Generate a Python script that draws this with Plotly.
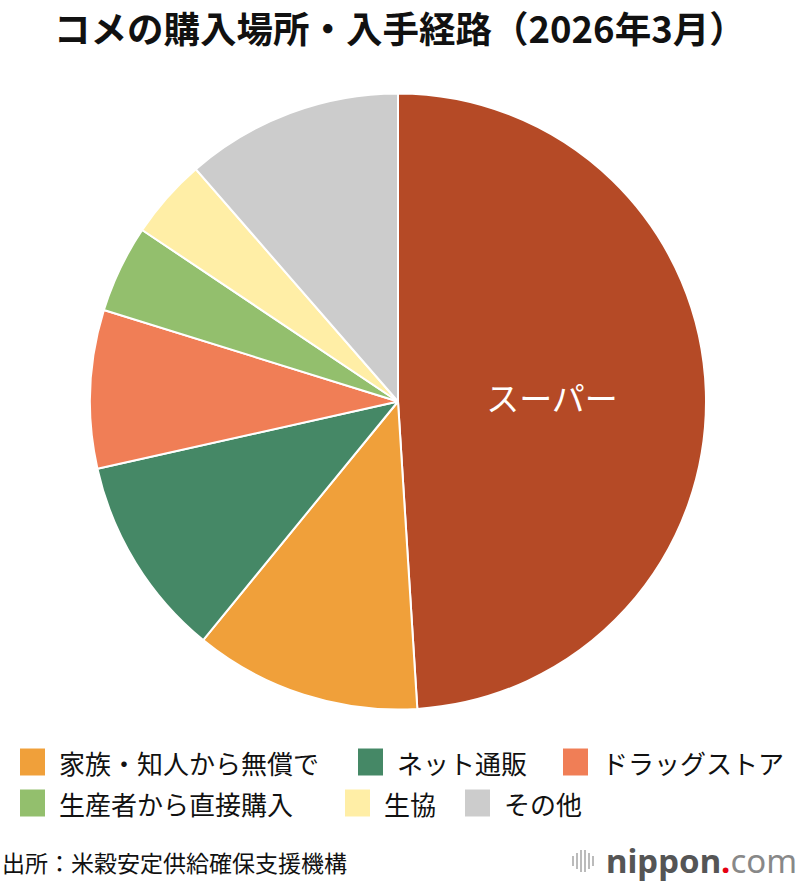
import plotly.graph_objects as go

categories = ["スーパー", "家族・知人から無償で", "ネット通販", "ドラッグストア",
              "生産者から直接購入", "生協", "その他"]
values = [49.0, 11.9, 10.6, 8.3, 4.6, 4.2, 11.4]
colors = ["#B54A26", "#F0A03A", "#458866", "#F07E56", "#93BF6D", "#FFEEA6", "#CCCCCC"]
shown_labels = ["スーパー"]

FONT = "Noto Sans CJK JP"
W, H = 800, 884

texts = [c if c in shown_labels else "" for c in categories]

fig = go.Figure()
fig.add_trace(go.Pie(
    labels=categories, values=values, sort=False, direction="clockwise", rotation=0,
    marker=dict(colors=colors, line=dict(color="white", width=2)),
    text=texts, textinfo="text", textposition="inside",
    insidetextorientation="horizontal",
    insidetextfont=dict(family=FONT, size=33, color="white"),
    hoverinfo="label+value",
    domain=dict(x=[(398 - 308) / W, (398 + 308) / W], y=[1 - 709.5 / H, 1 - 93.5 / H]),
    showlegend=False,
))

annotations = []
shapes = []

annotations.append(dict(text="<b>コメの購入場所・入手経路（2026年3月）</b>", x=0.5, y=1 - 27 / H,
                        xref="paper", yref="paper", showarrow=False,
                        font=dict(family=FONT, size=36.5, color="#111111"),
                        xanchor="center", yanchor="middle"))

# legend (manual)
legend_pos = [(20, 762), (358, 762), (563, 762), (20, 803), (345, 803), (465, 803)]
for (x0, yc), cat, col in zip(legend_pos, categories[1:], colors[1:]):
    shapes.append(dict(type="rect", xref="paper", yref="paper",
                       x0=x0 / W, x1=(x0 + 25) / W,
                       y0=1 - (yc + 13.5) / H, y1=1 - (yc - 13.5) / H,
                       fillcolor=col, line=dict(width=0)))
    annotations.append(dict(text=cat, x=(x0 + 37) / W, y=1 - yc / H,
                            xref="paper", yref="paper", showarrow=False,
                            font=dict(family=FONT, size=26, color="#111111"),
                            xanchor="left", yanchor="middle"))

annotations.append(dict(text="出所：米穀安定供給確保支援機構", x=0 / W, y=1 - 862 / H,
                        xref="paper", yref="paper", showarrow=False,
                        font=dict(family=FONT, size=23, color="#111111"),
                        xanchor="left", yanchor="middle"))

# nippon.com logo
bar_x = [573, 577, 581, 585, 589, 593]
bar_h = [10, 16, 22, 22, 16, 10]
for bx, bh in zip(bar_x, bar_h):
    shapes.append(dict(type="line", xref="paper", yref="paper",
                       x0=bx / W, x1=bx / W,
                       y0=1 - (861 + bh / 2) / H, y1=1 - (861 - bh / 2) / H,
                       line=dict(color="#BBBBBB", width=2)))
annotations.append(dict(
    text="<b><span style='color:#555555'>nippon</span><span style='color:#e60012'>.</span></b><span style='color:#888888'>com</span>",
    x=799 / W, y=1 - 860 / H, xref="paper", yref="paper", showarrow=False,
    font=dict(family="Noto Sans", size=33, color="#555555"),
    xanchor="right", yanchor="middle"))

fig.update_layout(
    width=W, height=H, margin=dict(l=0, r=0, t=0, b=0),
    paper_bgcolor="white", plot_bgcolor="white",
    annotations=annotations, shapes=shapes, showlegend=False,
)

fig.write_html("out.html", config={"displayModeBar": False},
               post_script="document.body.style.margin='0px';document.body.style.padding='0px';")
